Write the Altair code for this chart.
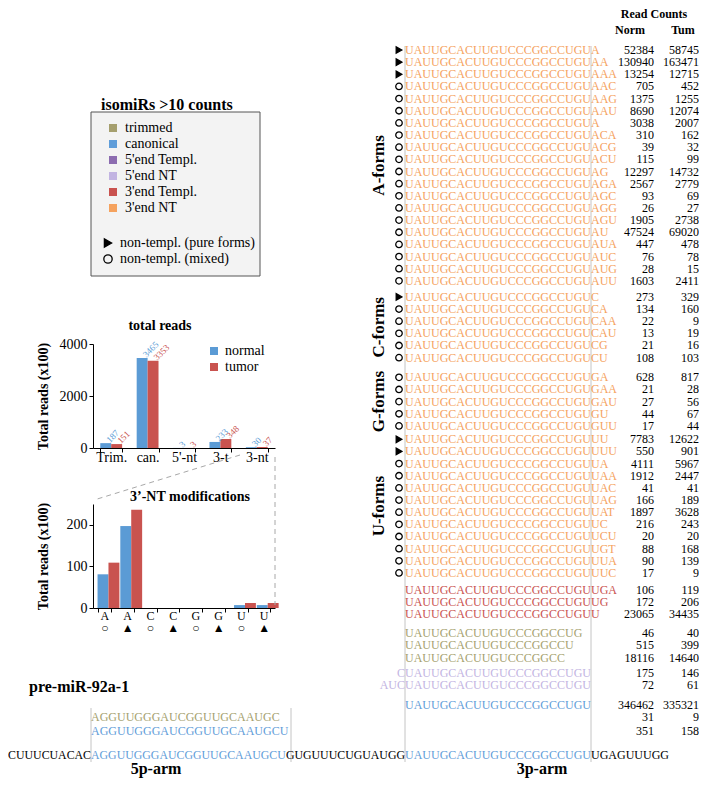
import altair as alt
import pandas as pd

FONT = "Liberation Serif"

# ---------------- bar chart data ----------------
tr_cats = ["Trim.", "can.", "5'-nt", "3-t", "3-nt"]
tr_normal = [187, 3465, 3, 233, 30]
tr_tumor = [151, 3353, 3, 348, 37]

nt_cats = ["A○", "A▲", "C○", "C▲", "G○", "G▲", "U○", "U▲"]
nt_normal = [81, 197, 0, 0, 0, 0, 7, 7]
nt_tumor = [109, 236, 0, 0, 0, 0, 12, 12]

grp_dom = ["normal", "tumor"]
grp_col = ["#5b9bd5", "#c9534f"]

# ---------------- table data ----------------
CANON = "UAUUGCACUUGUCCCGGCCUGU"

a_ext = ["A", "AA", "AAA", "AAC", "AAG", "AAU", "A", "ACA", "ACG", "ACU", "AG", "AGA",
         "AGC", "AGG", "AGU", "AU", "AUA", "AUC", "AUG", "AUU"]
a_norm = [52384, 130940, 13254, 705, 1375, 8690, 3038, 310, 39, 115, 12297, 2567,
          93, 26, 1905, 47524, 447, 76, 28, 1603]
a_tum = [58745, 163471, 12715, 452, 1255, 12074, 2007, 162, 32, 99, 14732, 2779,
         69, 27, 2738, 69020, 478, 78, 15, 2411]
a_mark = ["P", "P", "P"] + ["M"] * 17

c_ext = ["C", "CA", "CAA", "CAU", "CG", "CU"]
c_norm = [273, 134, 22, 13, 21, 108]
c_tum = [329, 160, 9, 19, 16, 103]
c_mark = ["P"] + ["M"] * 5

g_ext = ["GA", "GAA", "GAU", "GU", "GUU"]
g_norm = [628, 21, 27, 44, 17]
g_tum = [817, 28, 56, 67, 44]
g_mark = ["M"] * 5

u_ext = ["UU", "UUU", "UA", "UAA", "UAC", "UAG", "UAT", "UC", "UCU", "UGT", "UUA", "UUC"]
u_norm = [7783, 550, 4111, 1912, 41, 166, 1897, 216, 20, 88, 90, 17]
u_tum = [12622, 901, 5967, 2447, 41, 189, 3628, 243, 20, 168, 139, 9]
u_mark = ["P", "P"] + ["M"] * 10

t3_ext = ["UGA", "UG", "U"]
t3_norm = [106, 172, 23065]
t3_tum = [119, 206, 34435]

trim_seq = ["UAUUGCACUUGUCCCGGCCUG", "UAUUGCACUUGUCCCGGCCU", "UAUUGCACUUGUCCCGGCC"]
trim_norm = [46, 515, 18116]
trim_tum = [40, 399, 14640]

p5_pre = ["C", "AUC"]
p5_norm = [175, 72]
p5_tum = [146, 61]

can_seq = [CANON, "", ""]
can_norm = [346462, 31, 351]
can_tum = [335321, 9, 158]

cls_dom = ["trimmed", "canonical", "5'end Templ.", "5'end NT", "3'end Templ.", "3'end NT"]
cls_col = ["#a59f6e", "#5f9dd9", "#8c6cb0", "#c2b4e2", "#c9524f", "#f5a25e"]
mk_dom = ["non-templ. (pure forms)", "non-templ. (mixed)"]
MK = {"P": mk_dom[0], "M": mk_dom[1], "": ""}

PRE_MIR_LEFT = "CUUUCUACAC"
ARM5 = "AGGUUGGGAUCGGUUGCAAUGCU"
ARM5_TRIM = "AGGUUGGGAUCGGUUGCAAUGC"
LOOP = "GUGUUUCUGUAUGG"
PRE_MIR_RIGHT = "UGAGUUUGG"

# group definitions (label, class, sequences, prefixes, norm, tum, markers)
groups = [
    ("A-forms", "3'end NT", [CANON + e for e in a_ext], None, a_norm, a_tum, a_mark),
    ("C-forms", "3'end NT", [CANON + e for e in c_ext], None, c_norm, c_tum, c_mark),
    ("G-forms", "3'end NT", [CANON + e for e in g_ext], None, g_norm, g_tum, g_mark),
    ("U-forms", "3'end NT", [CANON + e for e in u_ext], None, u_norm, u_tum, u_mark),
    ("", "3'end Templ.", [CANON + e for e in t3_ext], None, t3_norm, t3_tum, [""] * 3),
    ("", "trimmed", trim_seq, None, trim_norm, trim_tum, [""] * 3),
    ("", "5'end NT", [CANON] * 2, p5_pre, p5_norm, p5_tum, [""] * 2),
    ("", "canonical", can_seq, None, can_norm, can_tum, [""] * 3),
]
# layout: extra space (in rows) before each group
GAPS = [0, 0.32, 0.62, 0.1, 0.42, 0.55, 0.23, 0.66]
LAST_ROW_EXTRA = 0.15

rows = []
slot = -1.0
for gi, (gname, cls, seqs, pres, norm, tum, marks) in enumerate(groups):
    slot += GAPS[gi]
    for i in range(len(seqs)):
        slot += 1
        if gi == len(groups) - 1 and i == len(seqs) - 1:
            slot += LAST_ROW_EXTRA
        rows.append(dict(seq=seqs[i], pre=(pres[i] if pres else ""), norm=str(norm[i]),
                         tum=str(tum[i]), mk=MK[marks[i]], cls=cls, grp=gname, slot=slot))
tab = pd.DataFrame(rows)
gl = tab[tab.grp != ""].groupby("grp", sort=False)["slot"].agg(["min", "max"]).reset_index()
gl["yc"] = (gl["min"] + gl["max"]) / 2

ONE = pd.DataFrame({"o": [0]})

# ---------------- layout constants ----------------
# the table panel shares its left edge with the bar-chart plots; it overflows to the right and down
TW, TH = 182, 336
Y0, P = 42.0, 12.15        # first row pixel, pixels per row
d0 = -Y0 / P
d1 = (TH - Y0) / P
YSCALE = alt.Scale(domain=[d0, d1], reverse=True, nice=False, zero=False)
YT = alt.Y("slot:Q", scale=YSCALE, axis=None)


def ypix(s):
    return Y0 + P * s


OFF = 182
SEQ_X, LINE2_X, MARK_X, GRP_X = 130 + OFF, 316 + OFF, 124 + OFF, 104 + OFF
NORM_X, TUM_X = 379 + OFF, 424 + OFF


def txt(s, x, y, size=12, weight="normal", color="black", align="left", baseline="middle", angle=0):
    kw = dict(text=s, font=FONT, fontSize=size, fontWeight=weight, color=color,
              align=align, baseline=baseline)
    if angle:
        kw["angle"] = angle
    return alt.Chart(ONE).mark_text(**kw).encode(x=alt.value(x), y=alt.value(y))


def rule(x1, y1, x2, y2, color="#c4c4c4", dash=None, width=1):
    kw = dict(color=color, strokeWidth=width)
    if dash:
        kw["strokeDash"] = dash
    return alt.Chart(ONE).mark_rule(**kw).encode(
        x=alt.value(x1), y=alt.value(y1), x2=alt.value(x2), y2=alt.value(y2))


# ---------------- table chart ----------------
leg_cls = alt.Legend(title=None, orient="none", legendX=13, legendY=113, symbolType="square",
                     symbolSize=64, symbolStrokeWidth=0, labelFont=FONT, labelFontSize=14,
                     labelColor="black", padding=0, rowPadding=2, labelOffset=5)
color_cls = alt.Color("cls:N", scale=alt.Scale(domain=cls_dom, range=cls_col), legend=leg_cls)

seq_layer = alt.Chart(tab).mark_text(font=FONT, fontSize=12, align="left", baseline="middle").encode(
    x=alt.value(SEQ_X), y=YT, text="seq:N", color=color_cls)
pre_layer = alt.Chart(tab[tab.pre != ""]).mark_text(font=FONT, fontSize=12, align="right",
                                                    baseline="middle").encode(
    x=alt.value(SEQ_X), y=YT, text="pre:N", color=color_cls)
norm_layer = alt.Chart(tab).mark_text(font=FONT, fontSize=12, align="right", baseline="middle",
                                      color="black").encode(x=alt.value(NORM_X), y=YT, text="norm:N")
tum_layer = alt.Chart(tab).mark_text(font=FONT, fontSize=12, align="right", baseline="middle",
                                     color="black").encode(x=alt.value(TUM_X), y=YT, text="tum:N")

leg_mk = alt.Legend(title=None, orient="none", legendX=8, legendY=228, symbolSize=70,
                    symbolStrokeWidth=1.3, labelFont=FONT,
                    labelFontSize=14, labelColor="black", padding=0, rowPadding=2, labelOffset=5)
mk_layer = alt.Chart(tab[tab.mk != ""]).mark_point(filled=True, strokeWidth=1.3,
                                                   size=42, opacity=1).encode(
    x=alt.value(MARK_X), y=YT,
    shape=alt.Shape("mk:N", scale=alt.Scale(domain=mk_dom, range=["triangle-right", "circle"]),
                    legend=leg_mk),
    fill=alt.Fill("mk:N", scale=alt.Scale(domain=mk_dom, range=["black", "transparent"]),
                  legend=leg_mk),
    stroke=alt.Stroke("mk:N", scale=alt.Scale(domain=mk_dom, range=["black", "black"]),
                      legend=leg_mk))

grp_layer = alt.Chart(gl).mark_text(font=FONT, fontSize=17, fontWeight="bold", angle=270,
                                    align="center", baseline="middle", color="black").encode(
    x=alt.value(GRP_X), y=alt.Y("yc:Q", scale=YSCALE, axis=None), text="grp:N")

last = tab["slot"].iloc[-1]
mid = tab["slot"].iloc[-2]
y_bot = ypix(last) + 24
y_arm = y_bot + 14

box = alt.Chart(ONE).mark_rect(fill="#f3f3f3", stroke="#555555", strokeWidth=1).encode(
    x=alt.value(-2), x2=alt.value(167), y=alt.value(104), y2=alt.value(268))

deco = [
    box,
    txt("isomiRs >10 counts", 8, 102, size=16, weight="bold", baseline="alphabetic"),
    rule(SEQ_X, 38, SEQ_X, y_bot + 7),
    rule(LINE2_X, 38, LINE2_X, y_bot + 7),
    rule(-2, ypix(mid) - 9, -2, y_bot + 7),
    rule(198, ypix(mid) - 9, 198, y_bot + 7),
    txt("Read Counts", NORM_X, 6, size=12, weight="bold", align="center"),
    txt("Norm", 355 + OFF, 22, size=12, weight="bold", align="center"),
    txt("Tum", 408 + OFF, 22, size=12, weight="bold", align="center"),
    txt("pre-miR-92a-1", -64, ypix(mid) - 30, size=16, weight="bold"),
    txt(ARM5_TRIM, -2, ypix(mid), color=cls_col[0]),
    txt(ARM5, -2, ypix(last), color=cls_col[1]),
    txt(PRE_MIR_LEFT, -2, y_bot, size=11.85, align="right"),
    txt(ARM5, -2, y_bot, size=11.85, color=cls_col[1]),
    txt(LOOP, SEQ_X, y_bot, size=11.85, align="right"),
    txt(CANON, SEQ_X, y_bot, color=cls_col[1]),
    txt(PRE_MIR_RIGHT, LINE2_X, y_bot),
    txt("5p-arm", 63, y_arm, size=16, weight="bold", align="center"),
    txt("3p-arm", 449, y_arm, size=16, weight="bold", align="center"),
]

table = alt.layer(*deco, seq_layer, pre_layer, norm_layer, tum_layer, mk_layer, grp_layer).properties(
    width=TW, height=TH)

# ---------------- total reads chart ----------------
tr_df = pd.DataFrame({"cat": tr_cats * 2, "grp": ["normal"] * 5 + ["tumor"] * 5,
                      "val": tr_normal + tr_tumor})
xs_tr = alt.X("cat:N", sort=tr_cats, scale=alt.Scale(paddingInner=0.4, paddingOuter=0.2),
              axis=alt.Axis(title=None, labelAngle=0, tickBand="extent", labelPadding=-2,
                            tickSize=4, labelFontSize=14))
leg_grp = alt.Legend(title=None, orient="none", legendX=114, legendY=0, symbolType="square",
                     symbolSize=64, symbolStrokeWidth=0, labelFont=FONT, labelFontSize=14,
                     labelColor="black", padding=0, rowPadding=2, labelOffset=4)
col_grp = alt.Color("grp:N", scale=alt.Scale(domain=grp_dom, range=grp_col), legend=leg_grp)
base_tr = alt.Chart(tr_df).encode(x=xs_tr, xOffset=alt.XOffset("grp:N", sort=grp_dom))
tr_bars = base_tr.mark_bar().encode(
    y=alt.Y("val:Q", scale=alt.Scale(domain=[0, 4000]),
            axis=alt.Axis(values=[0, 1000, 2000, 3000, 4000], format="d",
                          title="Total reads (x100)", titlePadding=9, tickSize=4, labelPadding=2)),
    color=col_grp)
tr_lab = base_tr.mark_text(angle=315, align="left", baseline="middle", dx=3, font=FONT,
                           fontSize=9).encode(
    y=alt.Y("val:Q"), text="val:Q", color=col_grp)
tr_chart = alt.layer(tr_bars, tr_lab, txt("total reads", 67, -18, size=14, weight="bold",
                                          align="center")).properties(width=182, height=104)

# ---------------- 3'-NT chart ----------------
nt_df = pd.DataFrame({"cat": nt_cats * 2, "grp": ["normal"] * 8 + ["tumor"] * 8,
                      "val": nt_normal + nt_tumor})
xs_nt = alt.X("cat:N", sort=nt_cats, scale=alt.Scale(paddingInner=0.4, paddingOuter=0.2),
              axis=alt.Axis(title=None, labelAngle=0, tickBand="extent", labelPadding=-2,
                            tickSize=4, labelFontSize=12, labelLineHeight=12,
                            labelExpr="[substring(datum.label, 0, 1), substring(datum.label, 1)]"))
nt_bars = alt.Chart(nt_df).mark_bar().encode(
    x=xs_nt, xOffset=alt.XOffset("grp:N", sort=grp_dom),
    y=alt.Y("val:Q", scale=alt.Scale(domain=[0, 250]),
            axis=alt.Axis(values=[0, 100, 200], title="Total reads (x100)", titlePadding=16,
                          tickSize=4, labelPadding=2, labelFontSize=14)),
    color=alt.Color("grp:N", scale=alt.Scale(domain=grp_dom, range=grp_col), legend=None))
nt_chart = alt.layer(
    nt_bars,
    txt("3’-NT modifications", 97, -7, size=14, weight="bold", align="center"),
    rule(147, -49, 1, -4, color="#a8a8a8", dash=[5, 4]),
    rule(182, -47, 182, 101, color="#a8a8a8", dash=[5, 4]),
).properties(width=182, height=104)


def spacer(w, h):
    return alt.Chart(ONE).mark_point(opacity=0).encode(x=alt.value(0), y=alt.value(0)).properties(
        width=w, height=h)


chart = alt.vconcat(table, tr_chart, spacer(182, 56), nt_chart,
                    spacing=0, bounds="flush").resolve_scale(
    color="independent", shape="independent", fill="independent", stroke="independent").properties(
    padding=0).configure_view(stroke=None).configure_axis(
    domainColor="black", tickColor="black", labelColor="black", titleColor="black",
    labelFont=FONT, titleFont=FONT, grid=False, labelFontSize=14, titleFontSize=14,
    titleFontWeight="bold")

chart.save("out.html", embed_options={"renderer": "svg", "actions": False})
